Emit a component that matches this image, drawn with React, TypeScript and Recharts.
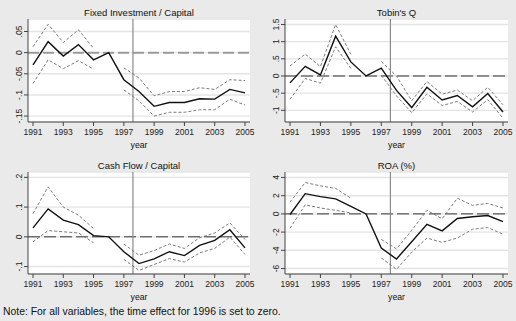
import React from 'react'
import { LineChart, Line, XAxis, YAxis, CartesianGrid, ReferenceLine } from 'recharts'

const YEARS = [1991, 1992, 1993, 1994, 1995, 1996, 1997, 1998, 1999, 2000, 2001, 2002, 2003, 2004, 2005]
const X_TICKS = [1991, 1993, 1995, 1997, 1999, 2001, 2003, 2005]
const BREAK_YEAR = 1997.6

// Fixed Investment / Capital
const FI_EST = [-0.029, 0.026, -0.008, 0.019, -0.017, 0, -0.064, -0.092, -0.127, -0.118, -0.118, -0.109, -0.11, -0.087, -0.095]
const FI_HI = [0.014, 0.067, 0.024, 0.054, 0.01, null, -0.036, -0.06, -0.102, -0.092, -0.092, -0.083, -0.087, -0.064, -0.066]
const FI_LO = [-0.073, -0.017, -0.038, -0.019, -0.039, null, -0.088, -0.114, -0.15, -0.141, -0.141, -0.135, -0.135, -0.11, -0.124]

// Tobin's Q
const TQ_EST = [-0.2, 0.28, 0.03, 1.16, 0.41, 0, 0.23, -0.42, -0.92, -0.33, -0.7, -0.57, -0.9, -0.51, -1.05]
const TQ_HI = [0.29, 0.64, 0.27, 1.5, 0.63, null, 0.42, 0.0, -0.72, -0.16, -0.53, -0.41, -0.72, -0.33, -0.84]
const TQ_LO = [-0.68, -0.07, -0.21, 0.85, 0.22, null, 0.02, -0.58, -1.07, -0.52, -0.86, -0.74, -1.05, -0.69, -1.23]

// Cash Flow / Capital
const CF_EST = [0.03, 0.094, 0.056, 0.041, 0.004, 0, -0.05, -0.09, -0.074, -0.05, -0.063, -0.029, -0.012, 0.024, -0.037]
const CF_HI = [0.078, 0.168, 0.1, 0.073, 0.028, null, -0.024, -0.062, -0.046, -0.024, -0.039, -0.003, 0.013, 0.047, -0.009]
const CF_LO = [-0.017, 0.021, 0.017, 0.013, -0.02, null, -0.076, -0.113, -0.093, -0.073, -0.085, -0.054, -0.039, -0.001, -0.059]

// ROA (%)
const ROA_EST = [-0.07, 2.22, 1.9, 1.65, 0.82, 0, -3.76, -4.95, -3.05, -1.15, -1.86, -0.5, -0.32, -0.18, -0.86]
const ROA_HI = [1.29, 3.44, 3.08, 2.8, 1.72, null, -2.8, -3.84, -1.8, 0.39, -0.54, 1.72, 0.93, 1.15, 0.65]
const ROA_LO = [-1.58, 1.0, 0.65, 0.39, 0.11, null, -4.84, -6.09, -4.2, -2.65, -3.12, -2.65, -1.68, -1.5, -2.22]

const FONT = '"Liberation Sans", Arial, sans-serif'

const stataFmt = (v: number) => {
  const s = String(+v.toFixed(3))
  return s.replace(/^(-?)0\./, '$1.')
}

const build = (est: number[], hi: (number | null)[], lo: (number | null)[]) =>
  YEARS.map((year, i) => ({ year, est: est[i], hi: hi[i], lo: lo[i] }))

const YTick = (props: any) => {
  const { x, y, payload } = props
  return (
    <text
      x={x}
      y={y}
      transform={`rotate(-90, ${x}, ${y})`}
      textAnchor="middle"
      fontSize={8.5}
      fontFamily={FONT}
      fill="#222"
    >
      {stataFmt(payload.value)}
    </text>
  )
}

interface PanelProps {
  title: string
  data: any[]
  domain: [number, number]
  ticks: number[]
  left: number
  top: number
  width: number
  height: number
  marginTop: number
  zeroStyle: { stroke: string; width: number; dash: string }
}

const Panel: React.FC<PanelProps> = ({ title, data, domain, ticks, left, top, width, height, marginTop, zeroStyle }) => {
  const axisH = 28
  return (
    <div style={{ position: 'absolute', left, top, width, height }}>
      <div
        style={{
          position: 'absolute',
          left: 28,
          width: width - 36,
          top: marginTop - 12,
          textAlign: 'center',
          fontSize: 9.5,
          fontFamily: FONT,
          color: '#111',
          lineHeight: '11px',
        }}
      >
        {title}
      </div>
      <LineChart
        width={width}
        height={height}
        data={data}
        margin={{ top: marginTop, right: 8, bottom: 0, left: 0 }}
      >
        <CartesianGrid horizontal vertical={false} stroke="#e4e4e4" strokeWidth={1.4} fill="#fff" />
        <XAxis
          type="number"
          dataKey="year"
          domain={[1991, 2005]}
          ticks={X_TICKS}
          interval={0}
          padding={{ left: 5, right: 5 }}
          height={axisH}
          tickSize={4}
          tickMargin={3}
          stroke="#444"
          tick={{ fontSize: 8.5, fontFamily: FONT, fill: '#222' }}
        />
        <YAxis
          type="number"
          domain={domain}
          ticks={ticks}
          interval={0}
          allowDataOverflow
          width={28}
          tickSize={4}
          tickMargin={2}
          stroke="#444"
          tick={<YTick />}
        />
        <ReferenceLine y={0} stroke={zeroStyle.stroke} strokeWidth={zeroStyle.width} strokeDasharray={zeroStyle.dash} />
        <ReferenceLine x={BREAK_YEAR} stroke="#8a8a8a" strokeWidth={1.2} />
        <Line dataKey="hi" stroke="#7a7a7a" strokeWidth={1} strokeDasharray="3 2" dot={false} connectNulls={false} isAnimationActive={false} />
        <Line dataKey="lo" stroke="#7a7a7a" strokeWidth={1} strokeDasharray="3 2" dot={false} connectNulls={false} isAnimationActive={false} />
        <Line dataKey="est" stroke="#111" strokeWidth={1.4} dot={false} isAnimationActive={false} />
      </LineChart>
      <div
        style={{
          position: 'absolute',
          left: 28,
          width: width - 36,
          top: height - 10,
          textAlign: 'center',
          fontSize: 8.7,
          fontFamily: FONT,
          color: '#111',
          lineHeight: '10px',
        }}
      >
        year
      </div>
    </div>
  )
}

const GRAY_ZERO = { stroke: '#9a9a9a', width: 2, dash: '11 4' }
const DARK_ZERO = { stroke: '#333', width: 1, dash: '12 4' }

export default function App() {
  return (
    <div
      style={{
        position: 'fixed',
        left: 0,
        top: 0,
        width: 516,
        height: 321,
        background: '#eaeaea',
        overflow: 'hidden',
      }}
    >
      <Panel
        title="Fixed Investment / Capital"
        data={build(FI_EST, FI_HI, FI_LO)}
        domain={[-0.164, 0.0795]}
        ticks={[-0.15, -0.1, -0.05, 0, 0.05]}
        left={0}
        top={0}
        width={258}
        height={150}
        marginTop={19}
        zeroStyle={GRAY_ZERO}
      />
      <Panel
        title="Tobin's Q"
        data={build(TQ_EST, TQ_HI, TQ_LO)}
        domain={[-1.34, 1.66]}
        ticks={[-1, -0.5, 0, 0.5, 1, 1.5]}
        left={257}
        top={0}
        width={259}
        height={150}
        marginTop={19}
        zeroStyle={DARK_ZERO}
      />
      <Panel
        title="Cash Flow / Capital"
        data={build(CF_EST, CF_HI, CF_LO)}
        domain={[-0.125, 0.218]}
        ticks={[-0.1, 0, 0.1, 0.2]}
        left={0}
        top={150}
        width={258}
        height={152}
        marginTop={22}
        zeroStyle={DARK_ZERO}
      />
      <Panel
        title="ROA (%)"
        data={build(ROA_EST, ROA_HI, ROA_LO)}
        domain={[-6.6, 4.6]}
        ticks={[-6, -4, -2, 0, 2, 4]}
        left={257}
        top={150}
        width={259}
        height={152}
        marginTop={22}
        zeroStyle={DARK_ZERO}
      />
      <div
        style={{
          position: 'absolute',
          left: 3,
          top: 306,
          fontSize: 10.4,
          fontFamily: FONT,
          color: '#111',
          lineHeight: '12px',
          whiteSpace: 'nowrap',
        }}
      >
        Note: For all variables, the time effect for 1996 is set to zero.
      </div>
    </div>
  )
}
